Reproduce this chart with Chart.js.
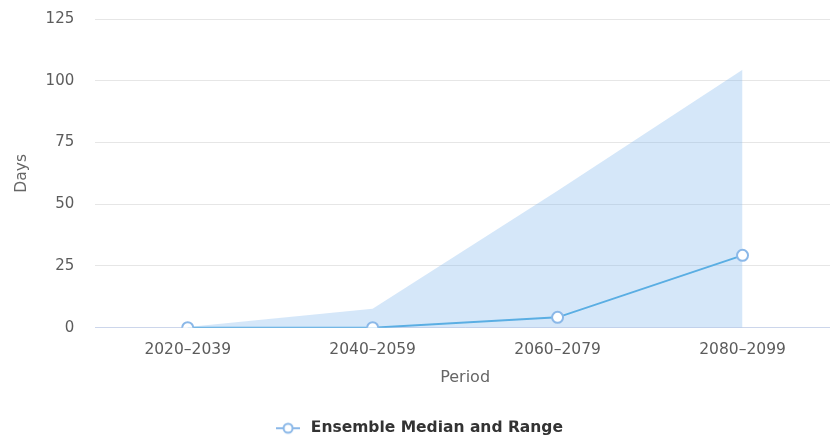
<!DOCTYPE html>
<html>
<head>
<meta charset="utf-8">
<script src="https://cdn.jsdelivr.net/npm/chart.js@4"></script>
<style>
  html, body { margin: 0; padding: 0; background: #fff; overflow: hidden; }
  #wrap { width: 835px; height: 441px; }
</style>
</head>
<body>
<div id="wrap"><canvas id="myChart"></canvas></div>
<script>
var periods = ['2020\u20132039', '2040\u20132059', '2060\u20132079', '2080\u20132099'];
var medianDays = [0, 0, 4.2, 29.3];
var rangeLow = [0, 0, 0, 0];
var rangeHigh = [0.3, 7.7, 55.5, 104.5];
var yTicks = [0, 25, 50, 75, 100, 125];

var lineColor = '#5aaee3';
var markerColor = '#8bb8e8';

// legend symbol: short line with hollow circle
function legendIcon() {
    var c = document.createElement('canvas');
    c.width = 24; c.height = 14;
    var g = c.getContext('2d');
    g.strokeStyle = markerColor;
    g.lineWidth = 2;
    g.beginPath(); g.moveTo(0, 7); g.lineTo(24, 7); g.stroke();
    g.fillStyle = '#fff';
    g.beginPath(); g.arc(12, 7, 4.5, 0, Math.PI * 2); g.fill(); g.stroke();
    return c;
}

var ctx = document.querySelector('#myChart').getContext('2d');
var myChart = new Chart(ctx, {
    type: 'line',
    data: {
        labels: periods,
        datasets: [{
            label: 'Ensemble Median and Range',
            data: medianDays,
            borderColor: lineColor,
            borderWidth: 2,
            pointRadius: 5.5,
            pointBorderWidth: 2,
            pointBackgroundColor: '#fff',
            pointBorderColor: markerColor,
            fill: false,
            tension: 0,
            order: 0
        }, {
            label: 'low',
            data: rangeLow,
            borderWidth: 0,
            pointRadius: 0,
            fill: false,
            order: 2
        }, {
            label: 'high',
            data: rangeHigh,
            borderWidth: 0,
            pointRadius: 0,
            backgroundColor: 'rgba(124,181,236,0.32)',
            fill: '-1',
            tension: 0,
            order: 1
        }]
    },
    options: {
        responsive: true,
        maintainAspectRatio: false,
        animation: false,
        layout: { autoPadding: false, padding: { left: 1, right: 0, top: 0, bottom: -5 } },
        plugins: {
            tooltip: { enabled: false },
            legend: {
                position: 'bottom',
                labels: {
                    usePointStyle: true,
                    pointStyleWidth: 30,
                    color: '#333',
                    font: { family: 'DejaVu Sans', size: 15.5, weight: 'bold' },
                    padding: 0,
                    filter: function (item) { return item.datasetIndex === 0; },
                    generateLabels: function (chart) {
                        var items = Chart.defaults.plugins.legend.labels.generateLabels(chart);
                        items.forEach(function (it) { it.pointStyle = legendIcon(); });
                        return items;
                    }
                }
            }
        },
        scales: {
            x: {
                offset: true,
                afterFit: function (s) { s.paddingRight = 0; s.paddingLeft = 0; },
                grid: { display: false, drawTicks: false },
                border: { display: true, color: '#ccd6eb' },
                ticks: {
                    color: '#5c5c5c',
                    padding: 13,
                    font: { family: 'DejaVu Sans', size: 15.5 }
                },
                title: {
                    display: true,
                    text: 'Period',
                    color: '#666',
                    padding: { top: -4, bottom: 33 },
                    font: { family: 'DejaVu Sans', size: 16 }
                }
            },
            y: {
                min: 0,
                max: 125,
                afterBuildTicks: function (axis) {
                    axis.ticks = yTicks.map(function (v) { return { value: v }; });
                },
                afterFit: function (s) { s.paddingTop = 19; s.paddingBottom = 9; },
                grid: { color: '#e6e6e6', drawTicks: false },
                border: { display: false },
                ticks: {
                    color: '#5c5c5c',
                    padding: 21,
                    font: { family: 'DejaVu Sans', size: 15 }
                },
                title: {
                    display: true,
                    text: 'Days',
                    color: '#666',
                    padding: { top: 12, bottom: -7 },
                    font: { family: 'DejaVu Sans', size: 15.5 }
                }
            }
        }
    }
});
</script>
</body>
</html>
